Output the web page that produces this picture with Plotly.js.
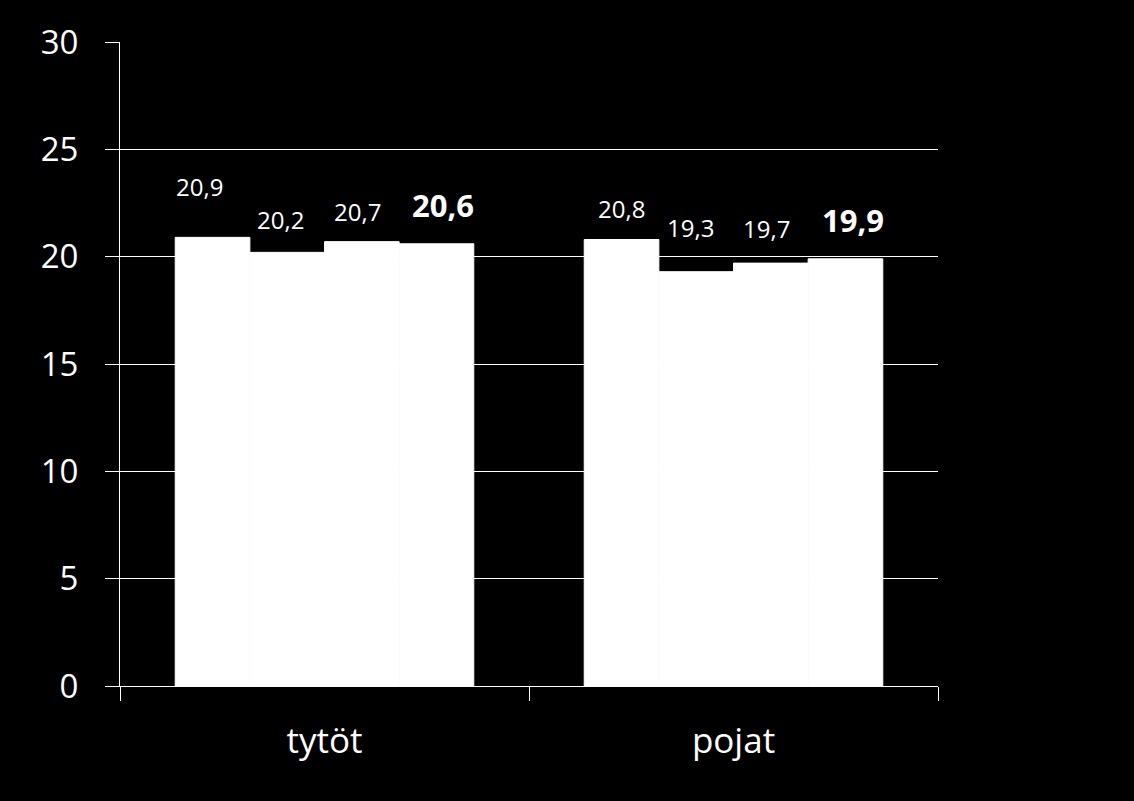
<!DOCTYPE html>
<html>
<head>
<meta charset="utf-8">
<script src="https://cdn.plot.ly/plotly-3.0.1.min.js"></script>
<style>html,body{margin:0;padding:0;background:#000;}</style>
</head>
<body>
<div id="chart" style="width:1134px;height:801px;"></div>
<script>
const categories = ['tytöt', 'pojat'];
const series1 = [20.9, 20.8];
const series2 = [20.2, 19.3];
const series3 = [20.7, 19.7];
const series4 = [20.6, 19.9];
const yTicks = [0, 5, 10, 15, 20, 25, 30];

// label styling (not data)
const labelShift = [[32, 12], [14, 26], [12, 16], [16, 16]];
const labelXShift = [[-13, 0], [-7, -6], [-4, -4], [7, 8]];
const labelBold = [false, false, false, true];

const allSeries = [series1, series2, series3, series4];
const bargap = 0.27;
const nS = allSeries.length;
const bw = (1 - bargap) / nS;
const fmt = v => v.toFixed(1).replace('.', ',');

const traces = allSeries.map((s, k) => ({
  type: 'bar',
  x: categories,
  y: s,
  marker: {color: '#ffffff', line: {width: 1, color: '#ffffff'}},
  hoverinfo: 'skip',
  showlegend: false
}));

const annotations = [];
allSeries.forEach((s, k) => {
  s.forEach((v, i) => {
    annotations.push({
      xref: 'x', yref: 'y',
      x: i + (k - (nS - 1) / 2) * bw,
      y: v,
      yanchor: 'bottom',
      yshift: labelShift[k][i],
      xshift: labelXShift[k][i],
      text: labelBold[k] ? '<b>' + fmt(v) + '</b>' : fmt(v),
      showarrow: false,
      font: {family: 'Open Sans, sans-serif', size: labelBold[k] ? 31 : 24, color: '#ffffff'}
    });
  });
});

const layout = {
  width: 1134, height: 801,
  paper_bgcolor: '#000000',
  plot_bgcolor: '#000000',
  margin: {l: 120, r: 196, t: 42, b: 115},
  barmode: 'group',
  bargap: bargap,
  bargroupgap: 0,
  separators: ', ',
  font: {family: 'Open Sans, sans-serif', color: '#ffffff'},
  xaxis: {
    type: 'category',
    showline: true, linecolor: '#ffffff', linewidth: 1,
    ticks: 'outside', tickson: 'boundaries', ticklen: 14, tickcolor: '#ffffff', tickwidth: 1,
    tickfont: {size: 35, color: '#ffffff'},
    ticklabelstandoff: 24,
    showgrid: false, zeroline: false
  },
  yaxis: {
    range: [0, 30],
    tickvals: yTicks,
    ticktext: yTicks.map(String),
    showgrid: true, gridcolor: '#ffffff', gridwidth: 1,
    showline: true, linecolor: '#ffffff', linewidth: 1,
    ticks: 'outside', ticklen: 14, tickcolor: '#ffffff', tickwidth: 1,
    tickfont: {size: 33, color: '#ffffff'},
    ticklabelstandoff: 20,
    zeroline: false
  },
  annotations: annotations
};

Plotly.newPlot('chart', traces, layout, {staticPlot: true, displayModeBar: false});
</script>
</body>
</html>
